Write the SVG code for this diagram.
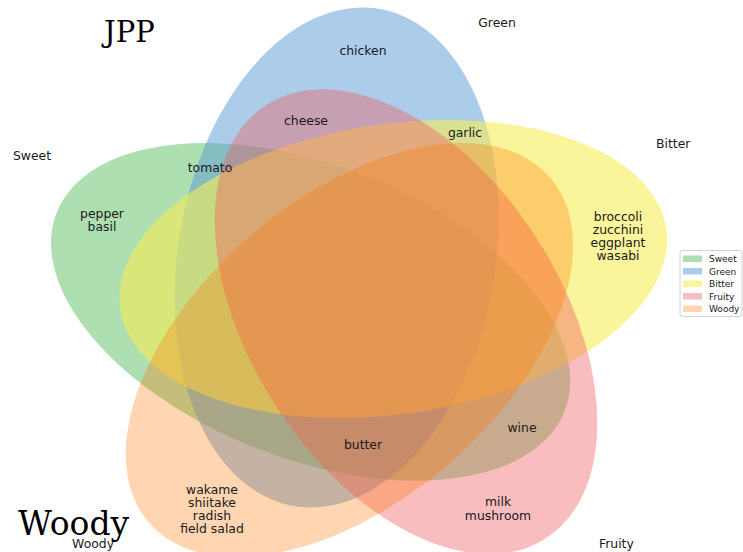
<svg xmlns="http://www.w3.org/2000/svg" width="743" height="552" viewBox="0 0 743 552">
  <style>
    .lbl { font-family: "DejaVu Sans", "Noto Sans", sans-serif; font-size: 12.4px; fill: #1a1a1a; text-anchor: middle; }
    .name { font-family: "DejaVu Sans", "Noto Sans", sans-serif; font-size: 12.4px; fill: #1a1a1a; }
    .big { font-family: "DejaVu Serif", "Liberation Serif", serif; fill: #000; }
    .leg { font-family: "DejaVu Sans", "Noto Sans", sans-serif; font-size: 9px; fill: #1a1a1a; }
    .sweet { fill: rgb(92,192,98); fill-opacity: 0.5; }
    .green { fill: rgb(90,155,212); fill-opacity: 0.5; }
    .bitter { fill: rgb(246,236,86); fill-opacity: 0.6; }
    .fruity { fill: rgb(241,90,96); fill-opacity: 0.4; }
    .woody { fill: rgb(255,117,0); fill-opacity: 0.3; }
  </style>
  <rect width="743" height="552" fill="#ffffff"/>

  <!-- five set ellipses, drawn in unit coordinates (y up) -->
  <g id="sets" transform="translate(38.4,571.6) scale(636,-578.5)">
    <g id="set-sweet"><ellipse class="sweet" cx="0.428" cy="0.449" rx="0.435" ry="0.25" transform="rotate(155 0.428 0.449)"/></g>
    <g id="set-green"><ellipse class="green" cx="0.469" cy="0.543" rx="0.435" ry="0.25" transform="rotate(82 0.469 0.543)"/></g>
    <g id="set-bitter"><ellipse class="bitter" cx="0.558" cy="0.523" rx="0.435" ry="0.25" transform="rotate(10 0.558 0.523)"/></g>
    <g id="set-fruity"><ellipse class="fruity" cx="0.578" cy="0.432" rx="0.435" ry="0.25" transform="rotate(118 0.578 0.432)"/></g>
    <g id="set-woody"><ellipse class="woody" cx="0.489" cy="0.383" rx="0.435" ry="0.25" transform="rotate(46 0.489 0.383)"/></g>
  </g>

  <!-- region labels -->
  <g id="regions">
    <text class="lbl" x="363" y="55">chicken</text>
    <text class="lbl" x="306" y="125">cheese</text>
    <text class="lbl" x="465" y="137">garlic</text>
    <text class="lbl" x="210" y="172">tomato</text>
    <text class="lbl" x="102" y="218">pepper</text>
    <text class="lbl" x="102" y="231">basil</text>
    <text class="lbl" x="618" y="221">broccoli</text>
    <text class="lbl" x="618" y="234">zucchini</text>
    <text class="lbl" x="618" y="247">eggplant</text>
    <text class="lbl" x="618" y="260">wasabi</text>
    <text class="lbl" x="522" y="432">wine</text>
    <text class="lbl" x="363" y="449">butter</text>
    <text class="lbl" x="498" y="506">milk</text>
    <text class="lbl" x="498" y="520">mushroom</text>
    <text class="lbl" x="212" y="494">wakame</text>
    <text class="lbl" x="212" y="507">shiitake</text>
    <text class="lbl" x="212" y="520">radish</text>
    <text class="lbl" x="212" y="533">field salad</text>
  </g>

  <!-- set names -->
  <g id="names">
    <text class="name" x="51" y="160" text-anchor="end">Sweet</text>
    <text class="name" x="497" y="27" text-anchor="middle">Green</text>
    <text class="name" x="656" y="148">Bitter</text>
    <text class="name" x="599" y="548">Fruity</text>
    <text class="name" x="114" y="548" text-anchor="end">Woody</text>
  </g>

  <!-- titles -->
  <text class="big" x="104" y="42" font-size="29">JPP</text>
  <text class="big" x="18" y="535" font-size="33">Woody</text>

  <!-- legend -->
  <g id="legend">
    <rect x="680" y="250.5" width="62" height="66" rx="2.5" fill="#ffffff" fill-opacity="0.8" stroke="#d0d0d0" stroke-width="1"/>
    <rect class="sweet" x="683" y="255.5" width="19" height="6.5"/>
    <rect class="green" x="683" y="268" width="19" height="6.5"/>
    <rect class="bitter" x="683" y="280.5" width="19" height="6.5"/>
    <rect class="fruity" x="683" y="293" width="19" height="6.5"/>
    <rect class="woody" x="683" y="305.5" width="19" height="6.5"/>
    <text class="leg" x="709" y="262">Sweet</text>
    <text class="leg" x="709" y="274.5">Green</text>
    <text class="leg" x="709" y="287">Bitter</text>
    <text class="leg" x="709" y="299.5">Fruity</text>
    <text class="leg" x="709" y="312">Woody</text>
  </g>
</svg>
